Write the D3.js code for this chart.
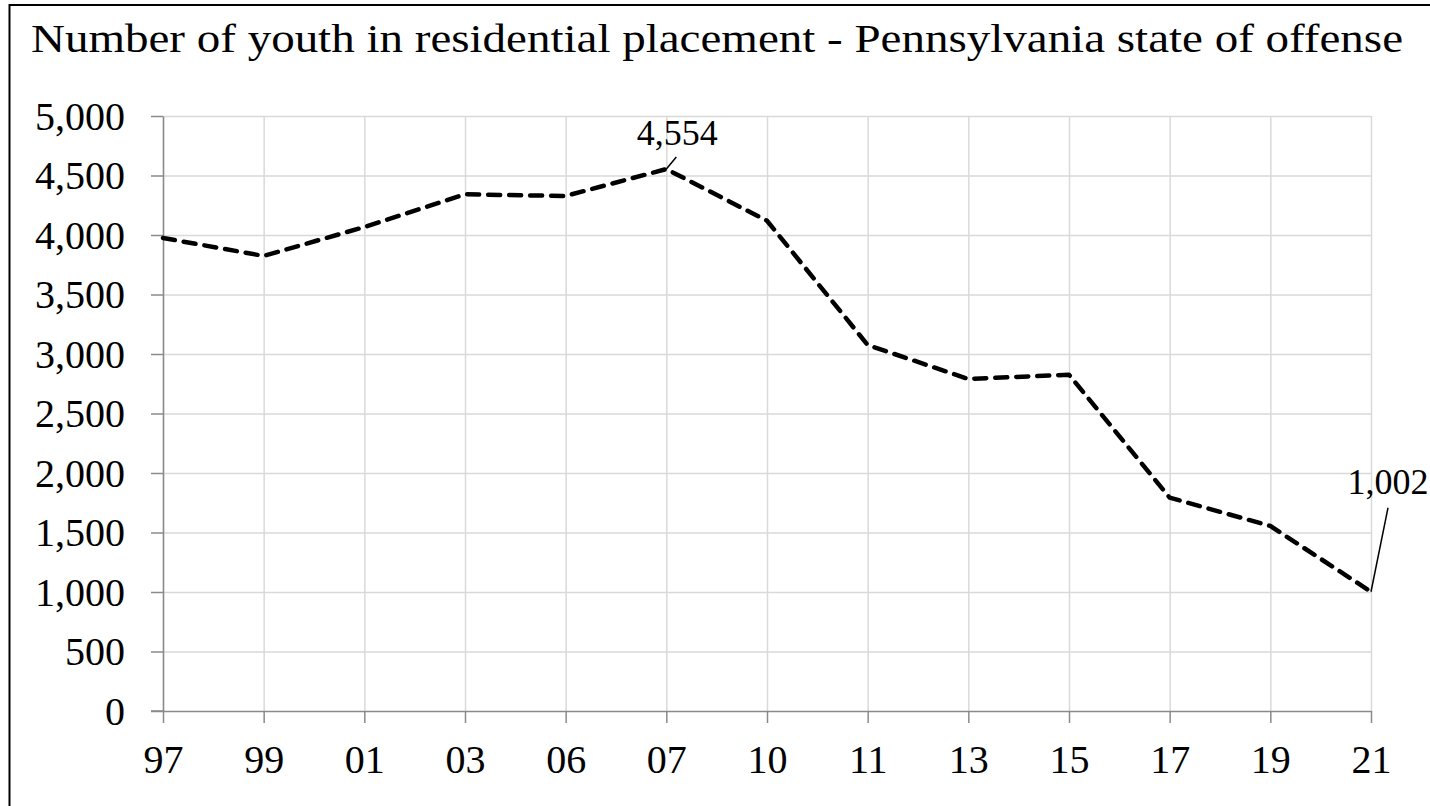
<!DOCTYPE html>
<html>
<head>
<meta charset="utf-8">
<script src="https://cdn.jsdelivr.net/npm/d3@7"></script>
<style>
  html, body { margin: 0; padding: 0; background: #fff; }
  svg { display: block; }
  text { font-family: "Liberation Serif", "DejaVu Serif", serif; fill: #000; }
</style>
</head>
<body>
<svg id="chart" width="1430" height="806"></svg>
<script>
// Youth in residential placement, Pennsylvania state of offense
const years = ["97", "99", "01", "03", "06", "07", "10", "11", "13", "15", "17", "19", "21"];
const youthCounts = [3975, 3824, 4067, 4342, 4328, 4554, 4120, 3076, 2790, 2826, 1793, 1555, 1002];
const yTickValues = [0, 500, 1000, 1500, 2000, 2500, 3000, 3500, 4000, 4500, 5000];
const labelledYears = ["07", "21"];
const titleText = "Number of youth in residential placement - Pennsylvania state of offense";

const W = 1430, H = 806;
const plot = { left: 163, right: 1371, top: 116, bottom: 711 };
const svg = d3.select("#chart");

// outer frame (runs off the right and bottom edges)
svg.append("rect")
  .attr("x", 9.5).attr("y", 5)
  .attr("width", W).attr("height", H)
  .attr("fill", "#fff").attr("stroke", "#000").attr("stroke-width", 2);

// title
svg.append("text")
  .attr("x", 31).attr("y", 52)
  .attr("font-size", 41)
  .attr("textLength", 1372)
  .attr("lengthAdjust", "spacingAndGlyphs")
  .text(titleText);

const x = d3.scalePoint().domain(years).range([plot.left, plot.right]);
const y = d3.scaleLinear().domain([0, 5000]).range([plot.bottom, plot.top]);

const gridColor = "#d9d9d9", axisColor = "#8a8a8a";

// horizontal gridlines
svg.append("g")
  .attr("transform", `translate(${plot.left},0)`)
  .call(d3.axisLeft(y).tickValues(yTickValues.filter(d => d > 0))
        .tickSize(-(plot.right - plot.left)).tickFormat(""))
  .call(g => g.select(".domain").remove())
  .call(g => g.selectAll("line").attr("stroke", gridColor).attr("stroke-width", 1.5));

// vertical gridlines
svg.append("g")
  .attr("transform", `translate(0,${plot.bottom})`)
  .call(d3.axisBottom(x).tickSize(-(plot.bottom - plot.top)).tickFormat(""))
  .call(g => g.select(".domain").remove())
  .call(g => g.selectAll("line").attr("stroke", gridColor).attr("stroke-width", 1.5));

// y axis
svg.append("g")
  .attr("transform", `translate(${plot.left},0)`)
  .call(d3.axisLeft(y).tickValues(yTickValues).tickSize(12).tickSizeOuter(0)
        .tickPadding(26).tickFormat(d3.format(",")))
  .call(g => g.select(".domain").attr("stroke", axisColor).attr("stroke-width", 1.5))
  .call(g => g.selectAll("line").attr("stroke", axisColor).attr("stroke-width", 1.5))
  .call(g => g.selectAll("text").attr("font-size", 40).attr("font-family", "Liberation Serif")
        .attr("fill", "#000").attr("dy", "0.33em"));

// x axis
svg.append("g")
  .attr("transform", `translate(0,${plot.bottom})`)
  .call(d3.axisBottom(x).tickSize(12).tickSizeOuter(0).tickPadding(22))
  .call(g => g.select(".domain").attr("stroke", axisColor).attr("stroke-width", 1.5))
  .call(g => g.selectAll("line").attr("stroke", axisColor).attr("stroke-width", 1.5))
  .call(g => g.selectAll("text").attr("font-size", 40).attr("font-family", "Liberation Serif")
        .attr("fill", "#000"));

// extend baseline to the left under the 0 tick
svg.append("line")
  .attr("x1", plot.left - 12).attr("x2", plot.left)
  .attr("y1", y(0)).attr("y2", y(0))
  .attr("stroke", axisColor).attr("stroke-width", 1.5);

// dashed series line
const series = years.map((yr, i) => ({ yr, v: youthCounts[i] }));
svg.append("path")
  .datum(series)
  .attr("fill", "none")
  .attr("stroke", "#000")
  .attr("stroke-width", 4.5)
  .attr("stroke-dasharray", "12,9")
  .attr("stroke-linecap", "round")
  .attr("stroke-linejoin", "round")
  .attr("d", d3.line().x(d => x(d.yr)).y(d => y(d.v)));

// value labels with leader lines
const fmt = d3.format(",");
const labelOffsets = {
  "07": { lx: 11, ly: -24, ex: 10, ey: -12 },
  "21": { lx: 17, ly: -98, ex: 17, ey: -84 }
};
series.filter(d => labelledYears.includes(d.yr)).forEach(d => {
  const px = x(d.yr), py = y(d.v), o = labelOffsets[d.yr];
  svg.append("line")
    .attr("x1", px).attr("y1", py)
    .attr("x2", px + o.ex).attr("y2", py + o.ey)
    .attr("stroke", "#000").attr("stroke-width", 1.5);
  svg.append("text")
    .attr("x", px + o.lx).attr("y", py + o.ly)
    .attr("text-anchor", "middle")
    .attr("font-size", 36)
    .text(fmt(d.v));
});
</script>
</body>
</html>
